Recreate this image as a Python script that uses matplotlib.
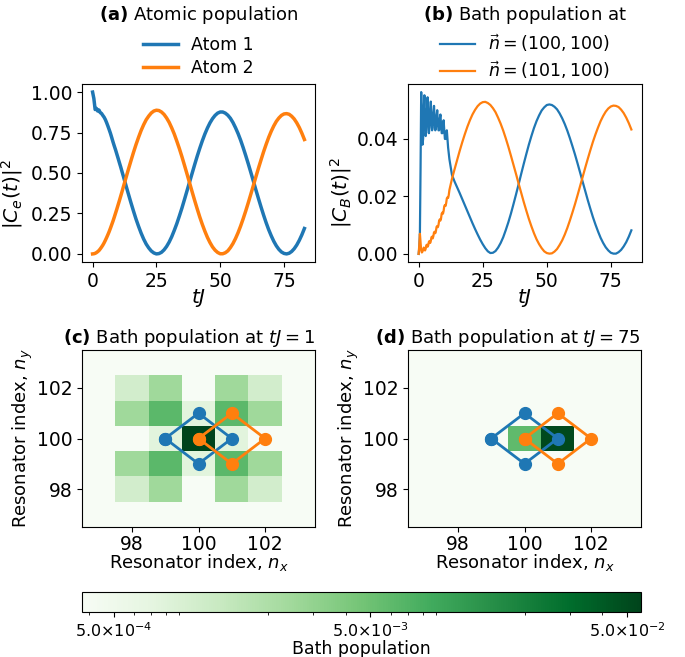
import numpy as np
import matplotlib
matplotlib.use('Agg')
import matplotlib.pyplot as plt
from matplotlib.colors import LogNorm
from matplotlib.ticker import NullFormatter

# time grids: fine steps early on, then unit steps
t_a = np.concatenate([np.arange(0, 12.5, 0.5), np.arange(13, 84)])
t_b = np.concatenate([np.arange(0, 12.25, 0.25), np.arange(13, 84)])

atom1 = [1.000, 0.960, 0.892, 0.899, 0.883, 0.889, 0.873, 0.868, 0.856, 0.845, 0.830, 0.811,
         0.790, 0.768, 0.745, 0.719, 0.692, 0.667, 0.643, 0.617, 0.591, 0.564, 0.538, 0.510, 0.483,
         0.427, 0.372, 0.318, 0.266, 0.216, 0.171, 0.129, 0.092, 0.061, 0.037, 0.018, 0.006, 0.000,
         0.002, 0.010, 0.025, 0.046, 0.073, 0.106, 0.145, 0.187, 0.234, 0.283, 0.336, 0.390, 0.444,
         0.498, 0.552, 0.604, 0.653, 0.699, 0.741, 0.778, 0.810, 0.836, 0.856, 0.870, 0.877, 0.877,
         0.870, 0.857, 0.838, 0.812, 0.780, 0.744, 0.703, 0.657, 0.608, 0.557, 0.504, 0.450, 0.395,
         0.342, 0.290, 0.240, 0.193, 0.150, 0.112, 0.078, 0.050, 0.028, 0.012, 0.003, 0.000, 0.004,
         0.015, 0.032, 0.055, 0.084, 0.118, 0.157]
atom2 = [0.000, 0.001, 0.0035, 0.008, 0.014, 0.021, 0.031, 0.042, 0.054, 0.068, 0.084, 0.101,
         0.119, 0.138, 0.159, 0.181, 0.203, 0.227, 0.252, 0.277, 0.303, 0.329, 0.356, 0.383, 0.411,
         0.466, 0.521, 0.574, 0.626, 0.675, 0.720, 0.762, 0.798, 0.829, 0.852, 0.871, 0.883, 0.888,
         0.886, 0.877, 0.862, 0.840, 0.813, 0.779, 0.741, 0.697, 0.651, 0.601, 0.548, 0.494, 0.439,
         0.384, 0.330, 0.278, 0.228, 0.182, 0.140, 0.102, 0.070, 0.043, 0.023, 0.009, 0.001, 0.001,
         0.007, 0.019, 0.039, 0.064, 0.095, 0.131, 0.172, 0.217, 0.265, 0.316, 0.369, 0.423, 0.477,
         0.530, 0.581, 0.631, 0.677, 0.720, 0.758, 0.791, 0.819, 0.840, 0.856, 0.865, 0.867, 0.863,
         0.851, 0.834, 0.810, 0.781, 0.746, 0.707]

# bath population at n=(100,100) and n=(101,100)
bath_100 = [0.0, 0.0020, 0.0075, 0.0300, 0.0563, 0.0480, 0.0380, 0.0400, 0.0500, 0.0552, 0.0480,
            0.0410, 0.0430, 0.0500, 0.0545, 0.0480, 0.0420, 0.0440, 0.0500, 0.0530, 0.0470, 0.0430,
            0.0440, 0.0490, 0.0515, 0.0470, 0.0430, 0.0440, 0.0480, 0.0500, 0.0460, 0.0430, 0.0430,
            0.0470, 0.0485, 0.0450, 0.0420, 0.0420, 0.0450, 0.0465, 0.0430, 0.0400, 0.0400, 0.0420,
            0.0430, 0.0400, 0.0370, 0.0350, 0.0330,
            0.0275, 0.0252, 0.0232, 0.0212, 0.0191, 0.0170, 0.0149, 0.0128, 0.0107, 0.0087, 0.0068,
            0.0050, 0.0034, 0.0020, 0.0009, 0.0003, 0.0004, 0.0010, 0.0022, 0.0038, 0.0058, 0.0083,
            0.0110, 0.0140, 0.0173, 0.0207, 0.0242, 0.0278, 0.0313, 0.0347, 0.0380, 0.0410, 0.0438,
            0.0462, 0.0482, 0.0499, 0.0510, 0.0518, 0.0520, 0.0518, 0.0512, 0.0503, 0.0489, 0.0472,
            0.0452, 0.0429, 0.0403, 0.0375, 0.0346, 0.0315, 0.0283, 0.0251, 0.0219, 0.0187, 0.0157,
            0.0128, 0.0102, 0.0078, 0.0056, 0.0038, 0.0023, 0.0012, 0.0004, 0.0001, 0.0001, 0.0006,
            0.0014, 0.0026, 0.0041, 0.0060, 0.0082]
bath_101 = [0.0, 0.0030, 0.0070, 0.0040, 0.0012, 0.0005, 0.0008, 0.0015, 0.0022, 0.0018, 0.0012,
            0.0018, 0.0030, 0.0032, 0.0025, 0.0030, 0.0042, 0.0045, 0.0038, 0.0045, 0.0058, 0.0060,
            0.0054, 0.0062, 0.0075, 0.0077, 0.0072, 0.0080, 0.0094, 0.0097, 0.0093, 0.0101, 0.0116,
            0.0120, 0.0116, 0.0124, 0.0140, 0.0144, 0.0140, 0.0150, 0.0166, 0.0170, 0.0167, 0.0177,
            0.0193, 0.0197, 0.0195, 0.0205, 0.0222,
            0.0261, 0.0294, 0.0326, 0.0358, 0.0388, 0.0416, 0.0442, 0.0465, 0.0485, 0.0501, 0.0514,
            0.0523, 0.0528, 0.0529, 0.0525, 0.0518, 0.0507, 0.0493, 0.0474, 0.0453, 0.0429, 0.0402,
            0.0373, 0.0342, 0.0310, 0.0278, 0.0245, 0.0213, 0.0181, 0.0151, 0.0122, 0.0096, 0.0072,
            0.0051, 0.0034, 0.0020, 0.0009, 0.0003, 0.0001, 0.0002, 0.0008, 0.0017, 0.0031, 0.0047,
            0.0067, 0.0090, 0.0116, 0.0144, 0.0173, 0.0204, 0.0236, 0.0268, 0.0300, 0.0331, 0.0361,
            0.0390, 0.0416, 0.0440, 0.0462, 0.0480, 0.0495, 0.0506, 0.0513, 0.0516, 0.0515, 0.0511,
            0.0502, 0.0490, 0.0474, 0.0455, 0.0433]

# resonator grid snapshots, rows ny = 97..103, columns nx = 97..103
nx = [97, 98, 99, 100, 101, 102, 103]
ny = [97, 98, 99, 100, 101, 102, 103]
bg = 1e-4
bath_t1 = [[bg, bg, bg, bg, bg, bg, bg],
           [bg, 1.05e-3, 2.5e-3, bg, 2.5e-3, 1.05e-3, bg],
           [bg, 2.5e-3, 6.2e-3, 7.5e-4, 6.2e-3, 2.5e-3, bg],
           [bg, bg, 7.5e-4, 0.0563, 7.5e-4, bg, bg],
           [bg, 2.5e-3, 6.2e-3, 7.5e-4, 6.2e-3, 2.5e-3, bg],
           [bg, 1.05e-3, 2.5e-3, bg, 2.5e-3, 1.05e-3, bg],
           [bg, bg, bg, bg, bg, bg, bg]]
bath_t75 = [[bg, bg, bg, bg, bg, bg, bg],
            [bg, bg, bg, bg, bg, bg, bg],
            [bg, bg, bg, bg, bg, bg, bg],
            [bg, bg, bg, 5.9e-3, 0.0513, bg, bg],
            [bg, bg, bg, bg, bg, bg, bg],
            [bg, bg, bg, bg, bg, bg, bg],
            [bg, bg, bg, bg, bg, bg, bg]]

# coupling points of the two giant atoms
atom1_x = [99, 100, 101, 100, 99]
atom1_y = [100, 101, 100, 99, 100]
atom2_x = [100, 101, 102, 101, 100]
atom2_y = [100, 101, 100, 99, 100]

cbar_ticks = [5e-4, 5e-3, 5e-2]
cbar_labels = [r'$5.0{\times}10^{-4}$', r'$5.0{\times}10^{-3}$', r'$5.0{\times}10^{-2}$']

blue = '#1f77b4'
orange = '#ff7f0e'
tick_fs = 13.5
lab_fs = 13

fig = plt.figure(figsize=(6.85, 6.57), dpi=100)
W, H = 685, 657


def box(x0, x1, y0, y1):
    return [x0 / W, 1 - y1 / H, (x1 - x0) / W, (y1 - y0) / H]


ax_a = fig.add_axes(box(82, 315, 84, 262))
ax_b = fig.add_axes(box(408, 642, 84, 262))
ax_c = fig.add_axes(box(82, 315, 350, 527))
ax_d = fig.add_axes(box(408, 641, 350, 527))
cax = fig.add_axes(box(82, 641, 592, 612))

# (a) atomic population
ax_a.plot(t_a, atom1, color=blue, lw=2.5, label='Atom 1')
ax_a.plot(t_a, atom2, color=orange, lw=2.5, label='Atom 2')
ax_a.set_yticks([0, 0.25, 0.5, 0.75, 1.0])
ax_a.set_ylabel(r'$|C_e(t)|^2$', fontsize=14.5)
ax_a.yaxis.set_label_coords(-0.245, 0.38)
ax_a.legend(loc='center', bbox_to_anchor=(0.5, 1.155), frameon=False, fontsize=12.5,
            labelspacing=0.3, borderaxespad=0)
ax_a.text(0.5, 1.39, r'$\bf{(a)}$ Atomic population', transform=ax_a.transAxes,
          ha='center', va='center', fontsize=13)

# (b) bath population at two sites
ax_b.plot(t_b, bath_100, color=blue, lw=1.6, label=r'$\vec{n}=(100,100)$')
ax_b.plot(t_b, bath_101, color=orange, lw=1.6, label=r'$\vec{n}=(101,100)$')
ax_b.set_yticks([0, 0.02, 0.04])
ax_b.set_ylabel(r'$|C_B(t)|^2$', fontsize=14.5)
ax_b.yaxis.set_label_coords(-0.232, 0.39)
ax_b.legend(loc='center', bbox_to_anchor=(0.5, 1.155), frameon=False, fontsize=12.5,
            labelspacing=0.3, borderaxespad=0)
ax_b.text(0.5, 1.39, r'$\bf{(b)}$ Bath population at', transform=ax_b.transAxes,
          ha='center', va='center', fontsize=13)

for ax in [ax_a, ax_b]:
    ax.set_xticks([0, 25, 50, 75])
    ax.set_xlabel(r'$tJ$', fontsize=14.5, labelpad=-3)

# (c), (d) bath snapshots on the resonator grid
norm = LogNorm(vmin=3.77e-4, vmax=0.0565)
edges_x = np.array(nx + [nx[-1] + 1]) - 0.5
edges_y = np.array(ny + [ny[-1] + 1]) - 0.5
for ax, data, title in [(ax_c, bath_t1, r'$\bf{(c)}$ Bath population at $tJ=1$'),
                        (ax_d, bath_t75, r'$\bf{(d)}$ Bath population at $tJ=75$')]:
    mesh = ax.pcolormesh(edges_x, edges_y, np.array(data), cmap='Greens', norm=norm)
    ax.plot(atom1_x, atom1_y, '-o', color=blue, lw=2, ms=8.5)
    ax.plot(atom2_x, atom2_y, '-o', color=orange, lw=2, ms=8.5)
    ax.set_xlim(96.5, 103.5)
    ax.set_ylim(96.5, 103.5)
    ax.set_xticks([98, 100, 102])
    ax.set_yticks([98, 100, 102])
    ax.tick_params(axis='x', pad=2)
    ax.set_xlabel(r'Resonator index, $n_x$', fontsize=lab_fs, labelpad=-1)
    ax.set_ylabel(r'Resonator index, $n_y$', fontsize=lab_fs, labelpad=1)
    ax.set_title(title, loc='right', fontsize=13, pad=5)

for ax in [ax_a, ax_b, ax_c, ax_d]:
    ax.tick_params(labelsize=tick_fs)

cbar = fig.colorbar(mesh, cax=cax, orientation='horizontal')
cbar.set_ticks(cbar_ticks)
cbar.set_ticklabels(cbar_labels)
cbar.ax.xaxis.set_minor_formatter(NullFormatter())
cbar.ax.tick_params(labelsize=11.5)
cbar.set_label('Bath population', fontsize=12.5, labelpad=0)

fig.savefig('out.png', dpi=100)
